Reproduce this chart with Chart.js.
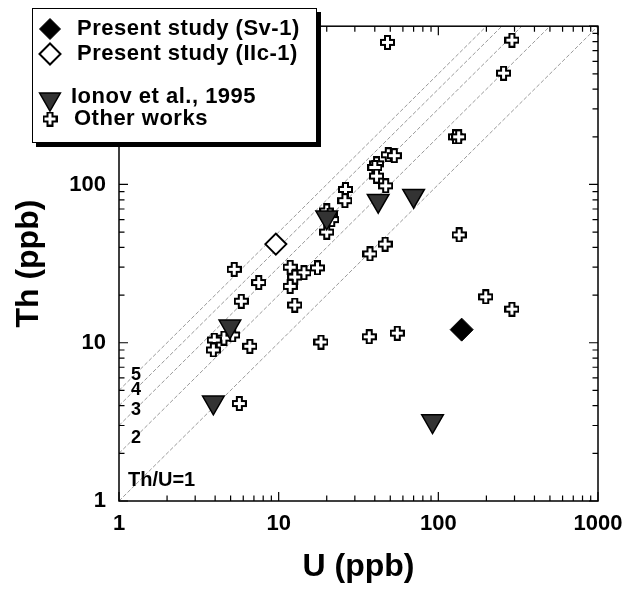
<!DOCTYPE html>
<html>
<head>
<meta charset="utf-8">
<script src="https://cdn.jsdelivr.net/npm/chart.js@4/dist/chart.umd.min.js"></script>
<style>
  body { margin: 0; background: #fff; }
  canvas { display: block; }
</style>
</head>
<body>
<canvas id="thu" width="633" height="590"></canvas>
<script>
// U vs Th (ppb)
const svU = [140];
const svTh = [12.1];

const ilcU = [9.6];
const ilcTh = [42];

const ionovU = [42, 70, 20, 4.95, 3.9, 92];
const ionovTh = [79, 85, 62, 12.7, 4.2, 3.2];

const otherU = [48, 289, 256, 128, 134, 48.6, 53, 41, 40, 41, 46.8, 26.2, 26, 20, 21, 21.5, 20,
  135, 46.4, 37.3, 17.5, 14.4, 198, 289, 18.4, 36.9, 55.3, 5.27, 11.8, 12.6, 11.8, 7.5, 12.6,
  5.83, 5.15, 4.54, 3.95, 3.9, 6.6, 5.67];
const otherTh = [790, 816, 505, 200, 200, 154, 152, 135, 128, 113, 98, 93, 79, 68, 64, 60, 50,
  48, 42, 36.4, 29.7, 27.7, 19.5, 16.3, 10.1, 10.9, 11.5, 29.1, 30, 26, 22.7, 24, 17.3,
  18.3, 11.2, 10.7, 10.4, 9.0, 9.5, 4.13];

// Th/U reference lines
const ratios = [1, 2, 3, 4, 5];
const tickLabels = [1, 10, 100, 1000];

function pts(xs, ys) {
  return xs.map((x, i) => ({ x: x, y: ys[i] }));
}

// open fat cross used for "Other works"
function makeCross() {
  const c = document.createElement('canvas');
  c.width = 15; c.height = 15;
  const g = c.getContext('2d');
  g.beginPath();
  g.moveTo(5, 1); g.lineTo(10, 1); g.lineTo(10, 5); g.lineTo(14, 5);
  g.lineTo(14, 10); g.lineTo(10, 10); g.lineTo(10, 14); g.lineTo(5, 14);
  g.lineTo(5, 10); g.lineTo(1, 10); g.lineTo(1, 5); g.lineTo(5, 5);
  g.closePath();
  g.fillStyle = '#fff';
  g.fill();
  g.lineWidth = 2;
  g.strokeStyle = '#000';
  g.stroke();
  return c;
}
const crossImg = makeCross();

const datasets = [];
ratios.forEach(r => {
  datasets.push({
    label: 'Th/U=' + r,
    data: [{ x: 1, y: r }, { x: 1000 / r, y: 1000 }],
    showLine: true,
    pointRadius: 0,
    borderColor: '#9a9a9a',
    borderWidth: 1,
    borderDash: [4, 2],
    order: 10
  });
});
datasets.push({
  label: 'Other works',
  data: pts(otherU, otherTh),
  pointStyle: crossImg,
  pointRadius: 7,
  order: 3
});
datasets.push({
  label: 'Ionov et al., 1995',
  data: pts(ionovU, ionovTh),
  pointStyle: 'triangle',
  rotation: 180,
  pointRadius: 12.5,
  backgroundColor: '#333',
  borderColor: '#000',
  borderWidth: 1.5,
  order: 2
});
datasets.push({
  label: 'Present study (IIc-1)',
  data: pts(ilcU, ilcTh),
  pointStyle: 'rectRot',
  pointRadius: 10.5,
  backgroundColor: '#fff',
  borderColor: '#000',
  borderWidth: 2,
  order: 1
});
datasets.push({
  label: 'Present study (Sv-1)',
  data: pts(svU, svTh),
  pointStyle: 'rectRot',
  pointRadius: 11.5,
  backgroundColor: '#000',
  borderColor: '#000',
  borderWidth: 1,
  order: 0
});

function logValues() {
  const v = [];
  for (let k = 0; k < 3; k++) {
    for (let m = 1; m < 10; m++) v.push(m * Math.pow(10, k));
  }
  v.push(1000);
  return v;
}

const frame = {
  id: 'frame',
  afterDatasetsDraw(chart) {
    const ctx = chart.ctx;
    const a = chart.chartArea;
    const xs = chart.scales.x, ys = chart.scales.y;
    ctx.save();
    ctx.strokeStyle = '#000';
    ctx.lineWidth = 1.5;
    ctx.strokeRect(a.left, a.top, a.right - a.left, a.bottom - a.top);
    ctx.lineWidth = 1.2;
    ctx.beginPath();
    logValues().forEach(v => {
      const len = tickLabels.includes(v) ? 9 : 5.5;
      const px = xs.getPixelForValue(v);
      ctx.moveTo(px, a.bottom); ctx.lineTo(px, a.bottom - len);
      ctx.moveTo(px, a.top); ctx.lineTo(px, a.top + len);
      const py = ys.getPixelForValue(v);
      ctx.moveTo(a.left, py); ctx.lineTo(a.left + len, py);
      ctx.moveTo(a.right, py); ctx.lineTo(a.right - len, py);
    });
    ctx.stroke();

    // ratio labels
    ctx.fillStyle = '#000';
    ctx.textBaseline = 'middle';
    ctx.textAlign = 'left';
    ctx.font = 'bold 18px "Liberation Sans", Arial, sans-serif';
    ratios.slice(1).forEach(r => {
      ctx.fillText(String(r), a.left + 12, ys.getPixelForValue(r * 1.25));
    });
    ctx.font = 'bold 20px "Liberation Sans", Arial, sans-serif';
    ctx.fillText('Th/U=1', a.left + 9, ys.getPixelForValue(1.35));
    ctx.restore();
  }
};

const boxLegend = {
  id: 'boxLegend',
  afterDraw(chart) {
    const ctx = chart.ctx;
    const rows = [
      { label: 'Present study (Sv-1)', y: 29, tx: 77 },
      { label: 'Present study (IIc-1)', y: 54, tx: 77 },
      { label: 'Ionov et al., 1995', y: 97, tx: 71 },
      { label: 'Other works', y: 119, tx: 74 }
    ];
    ctx.save();
    ctx.fillStyle = '#000';
    ctx.fillRect(36, 12, 285, 135);
    ctx.fillStyle = '#fff';
    ctx.fillRect(32, 8, 285, 135);
    ctx.strokeStyle = '#000';
    ctx.lineWidth = 1;
    ctx.strokeRect(32.5, 8.5, 284, 134);
    rows.forEach(r => {
      const ds = chart.data.datasets.find(d => d.label === r.label);
      ctx.fillStyle = ds.backgroundColor || '#fff';
      ctx.strokeStyle = ds.borderColor || '#000';
      ctx.lineWidth = ds.borderWidth || 1;
      const rad = ds.pointStyle === 'triangle' ? 12 : (ds.pointStyle === 'rectRot' ? 10.5 : 7);
      Chart.helpers.drawPoint(ctx, {
        pointStyle: ds.pointStyle,
        radius: rad,
        rotation: ds.rotation || 0,
        borderWidth: ds.borderWidth || 0
      }, 50, r.y + (ds.pointStyle === 'triangle' ? 2 : 0));
      ctx.fillStyle = '#000';
      ctx.font = 'bold 22px "Liberation Sans", Arial, sans-serif';
      ctx.letterSpacing = '0.5px';
      ctx.textAlign = 'left';
      ctx.textBaseline = 'middle';
      ctx.fillText(r.label, r.tx, r.y);
      ctx.letterSpacing = '0px';
    });
    ctx.restore();
  }
};

const tickFont = { family: '"Liberation Sans", Arial, sans-serif', size: 22, weight: 'bold' };
const titleFont = { family: '"Liberation Sans", Arial, sans-serif', size: 32, weight: 'bold' };
const showPow = v => tickLabels.some(t => Math.abs(t - v) < 1e-6 * t) ? String(Math.round(v)) : '';

new Chart(document.getElementById('thu'), {
  type: 'scatter',
  data: { datasets: datasets },
  options: {
    responsive: false,
    animation: false,
    layout: { padding: { top: 22, right: 35, left: 0, bottom: 0 } },
    plugins: {
      legend: { display: false },
      tooltip: { enabled: false }
    },
    scales: {
      x: {
        type: 'logarithmic',
        min: 1, max: 1000,
        grid: { display: false, drawTicks: false },
        border: { display: false },
        ticks: { autoSkip: false, maxRotation: 0, padding: 10, color: '#000', font: tickFont, callback: showPow },
        title: { display: true, text: 'U (ppb)', color: '#000', font: titleFont, padding: { top: 0, bottom: 4 } },
        afterFit: s => { s.height = 89; }
      },
      y: {
        type: 'logarithmic',
        min: 1, max: 1000,
        grid: { display: false, drawTicks: false },
        border: { display: false },
        ticks: { autoSkip: false, padding: 13, color: '#000', font: tickFont, callback: showPow },
        title: { display: true, text: 'Th (ppb)', color: '#000', font: titleFont, padding: { top: 10, bottom: 0 } },
        afterFit: s => { s.width = 119; }
      }
    }
  },
  plugins: [frame, boxLegend]
});
</script>
</body>
</html>
